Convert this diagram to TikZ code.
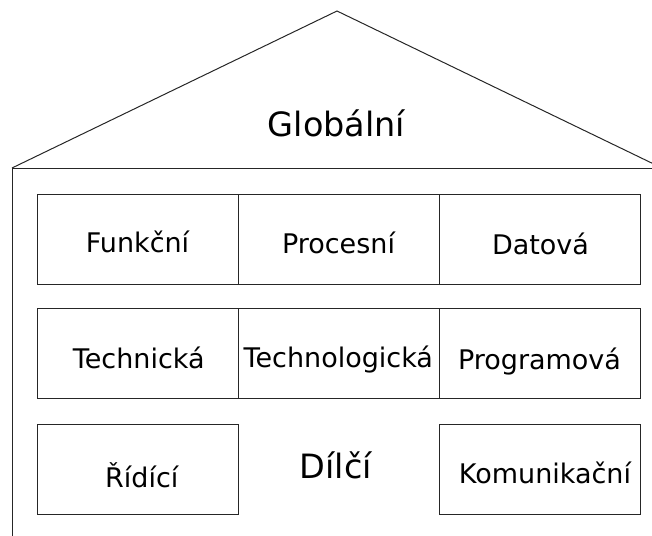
\documentclass[tikz,border=0pt]{standalone}
\usepackage{fontspec}
\setmainfont{DejaVu Sans}
\begin{document}
\begin{tikzpicture}[x=1pt,y=-1pt,
  line width=1pt,
  cell/.style={draw=black!85, anchor=north west, inner sep=0pt,
    minimum width=201pt, minimum height=90pt},
  lbl/.style={anchor=base, inner sep=0pt, text=black,
    font=\fontsize{27}{30}\selectfont},
  biglbl/.style={anchor=base, inner sep=0pt, text=black,
    font=\fontsize{33.5}{38}\selectfont}]
\useasboundingbox (0,0) rectangle (652,535);
\clip (0,0) rectangle (652,535);

% roof and wall of the house
\coordinate (apex)  at (337,11);
\coordinate (eaveL) at (12,168);
\coordinate (eaveR) at (662,168);
\coordinate (foot)  at (12,540);
\draw[black!85] (eaveL) -- (apex) -- (eaveR);
\draw[black!85] (eaveL) -- (eaveR);
\draw[black!85] (eaveL) -- (foot);

% first row
\node[cell] (fun) at (37,193.5) {};
\node[cell] (pro) at (238,193.5) {};
\node[cell] (dat) at (439,193.5) {};
% second row
\node[cell] (tec) at (37,308) {};
\node[cell] (tgl) at (238,308) {};
\node[cell] (prg) at (439,308) {};
% third row
\node[cell] (rid) at (37,423.5) {};
\node[cell] (kom) at (439,423.5) {};

% labels
\node[biglbl] (glob) at (336.5,136.5) {Globální};
\node[lbl] (tfun) at (137.5,252.5) {Funkční};
\node[lbl] (tpro) at (338.5,253.5) {Procesní};
\node[lbl] (tdat) at (540.5,254) {Datová};
\node[lbl] (ttec) at (138.7,368.3) {Technická};
\node[lbl] (ttgl) at (338.3,367) {Technologická};
\node[lbl] (tprg) at (539.5,369.5) {Programová};
\node[lbl] (trid) at (141.8,487.3) {Řídící};
\node[biglbl] (tdil) at (335.8,478.3) {Dílčí};
\node[lbl] (tkom) at (545,483.3) {Komunikační};
\end{tikzpicture}
\end{document}
